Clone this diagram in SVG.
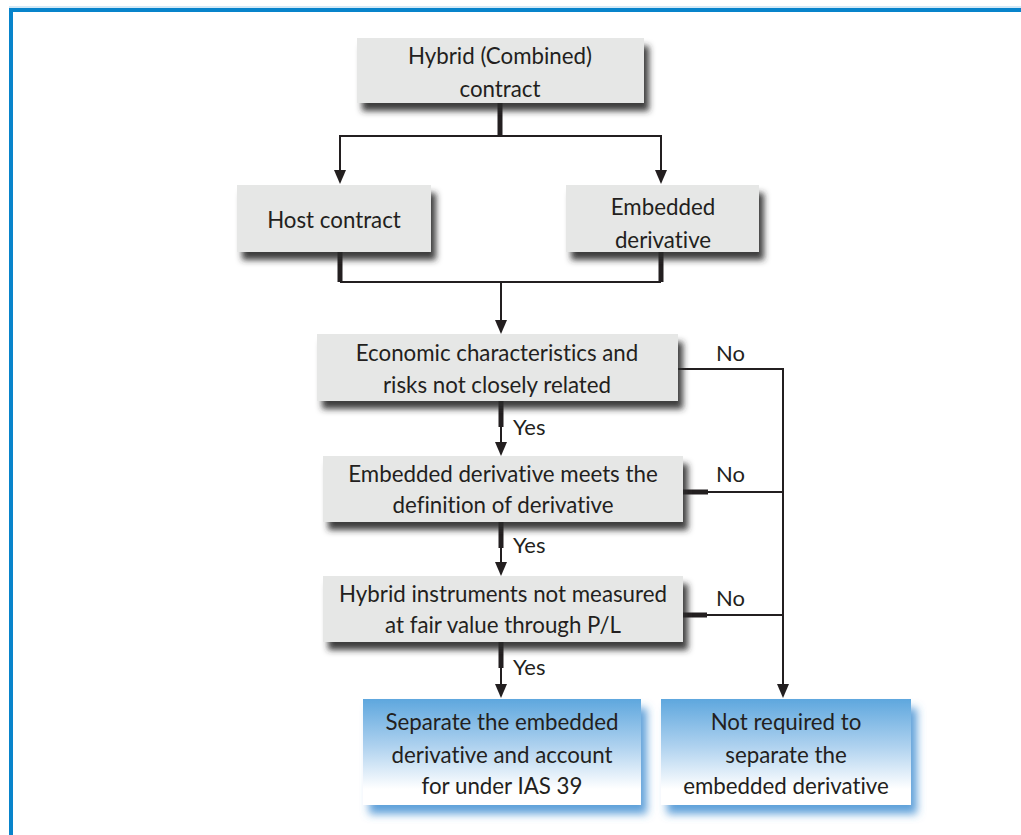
<svg xmlns="http://www.w3.org/2000/svg" width="1021" height="835" viewBox="0 0 1021 835">
  <defs>
    <style>
      .box { fill: #e6e7e6; }
      .t { font-family: Lato, "Open Sans", "Liberation Sans", sans-serif; font-size: 22.3px; fill: #231f20; text-anchor: middle; font-variant-ligatures: none; }
      .lbl { font-family: Lato, "Open Sans", "Liberation Sans", sans-serif; font-size: 22px; fill: #231f20; font-variant-ligatures: none; }
      .thin { stroke: #231f20; stroke-width: 2; fill: none; }
      .thick { stroke: #231f20; stroke-width: 5; fill: none; }
      .head { fill: #231f20; }
    </style>
    <filter id="shadow" x="-10%" y="-20%" width="130%" height="160%">
      <feGaussianBlur in="SourceAlpha" stdDeviation="3.2"/>
      <feOffset dx="5" dy="8" result="b"/>
      <feFlood flood-color="#2a2a2a" flood-opacity="0.9"/>
      <feComposite in2="b" operator="in"/>
      <feMerge><feMergeNode/><feMergeNode in="SourceGraphic"/></feMerge>
    </filter>
    <filter id="blueShadow" x="-10%" y="-20%" width="130%" height="160%">
      <feGaussianBlur in="SourceAlpha" stdDeviation="4"/>
      <feOffset dx="6" dy="9" result="b"/>
      <feFlood flood-color="#3a8ad0" flood-opacity="0.8"/>
      <feComposite in2="b" operator="in"/>
      <feMerge><feMergeNode/><feMergeNode in="SourceGraphic"/></feMerge>
    </filter>
    <linearGradient id="blueFill" x1="0" y1="0" x2="0" y2="1">
      <stop offset="0" stop-color="#5ea7de"/>
      <stop offset="0.45" stop-color="#afd2ef"/>
      <stop offset="0.85" stop-color="#ffffff"/>
      <stop offset="1" stop-color="#ffffff"/>
    </linearGradient>
  </defs>

  <rect width="1021" height="835" fill="#ffffff"/>

  <!-- frame -->
  <g id="frame">
    <line x1="9" y1="7" x2="1021" y2="7" stroke="#a9d3ee" stroke-width="1"/>
    <line x1="9" y1="10" x2="1021" y2="10" stroke="#0884cb" stroke-width="4"/>
    <line x1="11" y1="8" x2="11" y2="835" stroke="#0884cb" stroke-width="4"/>
  </g>

  <!-- connectors -->
  <g id="connectors">
    <line class="thick" x1="500" y1="103" x2="500" y2="136"/>
    <polyline class="thin" points="340,170 340,136 661,136 661,170"/>
    <path d="M334,170 L346,170 L340,184 Z" class="head"/>
    <path d="M655,170 L667,170 L661,184 Z" class="head"/>

    <line class="thick" x1="340" y1="252" x2="340" y2="282"/>
    <line class="thick" x1="661" y1="252" x2="661" y2="282"/>
    <line class="thin" x1="340" y1="282" x2="661" y2="282"/>
    <line class="thin" x1="501" y1="282" x2="501" y2="320"/>
    <path d="M495,320 L507,320 L501,334 Z" class="head"/>

    <line class="thick" x1="501" y1="401" x2="501" y2="427"/>
    <line class="thin" x1="501" y1="427" x2="501" y2="442"/>
    <path d="M495,442 L507,442 L501,456 Z" class="head"/>

    <line class="thick" x1="501" y1="522" x2="501" y2="548"/>
    <line class="thin" x1="501" y1="548" x2="501" y2="562"/>
    <path d="M495,562 L507,562 L501,576 Z" class="head"/>

    <line class="thick" x1="501" y1="642" x2="501" y2="668"/>
    <line class="thin" x1="501" y1="668" x2="501" y2="684"/>
    <path d="M495,684 L507,684 L501,698 Z" class="head"/>

    <polyline class="thin" points="678,369 783,369 783,684"/>
    <line class="thick" x1="683" y1="492" x2="708" y2="492"/>
    <line class="thin" x1="708" y1="492" x2="783" y2="492"/>
    <line class="thick" x1="683" y1="615" x2="707" y2="615"/>
    <line class="thin" x1="707" y1="615" x2="783" y2="615"/>
    <path d="M777,684 L789,684 L783,698 Z" class="head"/>

    <text class="lbl" x="513" y="435">Yes</text>
    <text class="lbl" x="513" y="553">Yes</text>
    <text class="lbl" x="513" y="675">Yes</text>
    <text class="lbl" x="716" y="361">No</text>
    <text class="lbl" x="716" y="482">No</text>
    <text class="lbl" x="716" y="606">No</text>
  </g>

  <g id="hybrid">
    <rect class="box" x="357" y="38" width="287" height="65" filter="url(#shadow)"/>
    <text class="t" x="500" y="64">Hybrid (Combined)</text>
    <text class="t" x="500" y="97">contract</text>
  </g>

  <g id="host">
    <rect class="box" x="237" y="185" width="194" height="67" filter="url(#shadow)"/>
    <text class="t" x="334" y="228">Host contract</text>
  </g>

  <g id="embedded">
    <rect class="box" x="566" y="185" width="193" height="67" filter="url(#shadow)"/>
    <text class="t" x="663" y="215">Embedded</text>
    <text class="t" x="663" y="248">derivative</text>
  </g>

  <g id="closely-related">
    <rect class="box" x="317" y="334" width="361" height="67" filter="url(#shadow)"/>
    <text class="t" x="497" y="361">Economic characteristics and</text>
    <text class="t" x="497" y="393">risks not closely related</text>
  </g>

  <g id="definition">
    <rect class="box" x="323" y="456" width="360" height="66" filter="url(#shadow)"/>
    <text class="t" x="503" y="482">Embedded derivative meets the</text>
    <text class="t" x="503" y="513">definition of derivative</text>
  </g>

  <g id="fair-value">
    <rect class="box" x="323" y="576" width="360" height="66" filter="url(#shadow)"/>
    <text class="t" x="503" y="602">Hybrid instruments not measured</text>
    <text class="t" x="503" y="633">at fair value through P/L</text>
  </g>

  <g id="separate">
    <rect x="363" y="699" width="278" height="106" fill="url(#blueFill)" filter="url(#blueShadow)"/>
    <text class="t" x="502" y="730">Separate the embedded</text>
    <text class="t" x="502" y="763">derivative and account</text>
    <text class="t" x="502" y="794">for under IAS 39</text>
  </g>

  <g id="not-required">
    <rect x="661" y="699" width="250" height="106" fill="url(#blueFill)" filter="url(#blueShadow)"/>
    <text class="t" x="786" y="730">Not required to</text>
    <text class="t" x="786" y="763">separate the</text>
    <text class="t" x="786" y="794">embedded derivative</text>
  </g>
</svg>
